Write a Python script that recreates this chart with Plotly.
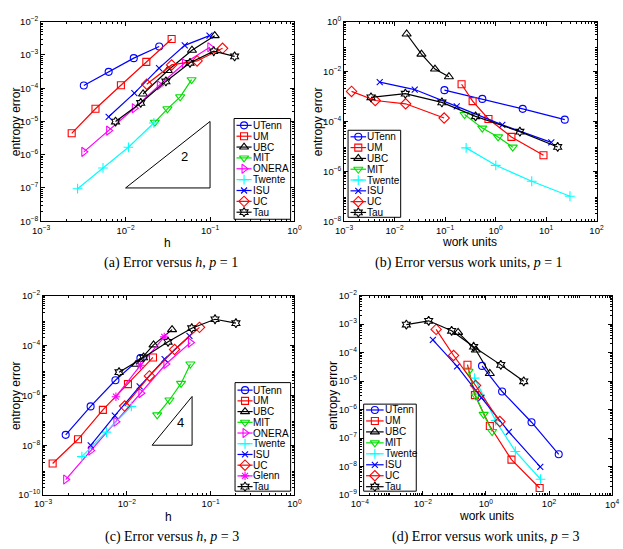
import math
import plotly.graph_objects as go

W, H = 623, 549

# ---------------- data: (a) error vs h, p = 1 ----------------
A_UTENN_H = [0.0032, 0.0063, 0.0125, 0.025]
A_UTENN_E = [1.2e-4, 3.1e-4, 8.0e-4, 1.8e-3]
A_UM_H = [0.0023, 0.0044, 0.0088, 0.0176, 0.0351]
A_UM_E = [4.4e-6, 2.4e-5, 1.22e-4, 6.2e-4, 3.0e-3]
A_UBC_H = [0.0161, 0.0316, 0.0611, 0.1136]
A_UBC_E = [6.7e-5, 3.4e-4, 1.38e-3, 3.8e-3]
A_MIT_H = [0.0222, 0.0313, 0.0443, 0.0605]
A_MIT_E = [9.5e-6, 2.4e-5, 5.5e-5, 1.8e-4]
A_ONERA_H = [0.0032, 0.0063, 0.0127, 0.0251, 0.0498, 0.0995]
A_ONERA_E = [1.22e-6, 5.3e-6, 2.5e-5, 1.22e-4, 5.6e-4, 1.7e-3]
A_TWENTE_H = [0.0027, 0.0054, 0.0108, 0.0216]
A_TWENTE_E = [9.5e-8, 4.0e-7, 1.67e-6, 9.0e-6]
A_ISU_H = [0.0063, 0.0127, 0.0249, 0.0502, 0.0986]
A_ISU_E = [1.38e-5, 7.1e-5, 4.0e-4, 1.94e-3, 3.8e-3]
A_UC_H = [0.0178, 0.0351, 0.0703, 0.1406]
A_UC_E = [1.31e-4, 5.0e-4, 6.6e-4, 1.58e-3]
A_TAU_H = [0.0076, 0.0151, 0.030, 0.0579, 0.1106, 0.1954]
A_TAU_E = [9.9e-6, 3.6e-5, 1.6e-4, 5.8e-4, 1.29e-3, 9.0e-4]

# ---------------- data: (b) error vs work units, p = 1 ----------------
B_UTENN_W = [0.097, 0.546, 3.45, 23.5]
B_UTENN_E = [1.8e-3, 8.0e-4, 3.2e-4, 1.18e-4]
B_UM_W = [0.212, 0.351, 0.723, 2.06, 8.9]
B_UM_E = [3.1e-3, 6.5e-4, 1.26e-4, 2.4e-5, 4.4e-6]
B_UBC_W = [0.0173, 0.034, 0.063, 0.119]
B_UBC_E = [0.32, 0.05, 0.0126, 6.2e-3]
B_MIT_W = [0.243, 0.546, 1.12, 2.19]
B_MIT_E = [1.9e-4, 5.4e-5, 2.4e-5, 9.3e-6]
B_TWENTE_W = [0.261, 1.01, 5.2, 29.8]
B_TWENTE_E = [8.7e-6, 1.74e-6, 4.0e-7, 1.0e-7]
B_ISU_W = [0.00507, 0.025, 0.17, 1.36, 12.7]
B_ISU_E = [3.8e-3, 1.9e-3, 4.0e-4, 7.3e-5, 1.45e-5]
B_UC_W = [0.0014, 0.00412, 0.0165, 0.0957]
B_UC_E = [1.6e-3, 6.9e-4, 5.1e-4, 1.37e-4]
B_TAU_W = [0.0034, 0.0163, 0.0863, 0.401, 3.03, 17.0]
B_TAU_E = [9.3e-4, 1.3e-3, 5.8e-4, 1.6e-4, 3.9e-5, 9.5e-6]

# ---------------- data: (c) error vs h, p = 3 ----------------
C_UTENN_H = [0.00186, 0.00369, 0.0073, 0.0145]
C_UTENN_E = [2.6e-8, 3.6e-7, 4.0e-6, 3.1e-5]
C_UM_H = [0.0013, 0.00261, 0.00517, 0.0103, 0.0205]
C_UM_E = [1.84e-9, 1.73e-8, 2.6e-7, 2.8e-6, 3.3e-5]
C_UBC_H = [0.0129, 0.0208, 0.0346]
C_UBC_E = [1.75e-5, 1.05e-4, 4.3e-4]
C_MIT_H = [0.023, 0.0322, 0.0443, 0.0573]
C_MIT_E = [1.64e-7, 6.5e-7, 3.0e-6, 1.8e-5]
C_ONERA_H = [0.00186, 0.0037, 0.0074, 0.0147, 0.0292, 0.0573]
C_ONERA_E = [4.2e-10, 6.1e-9, 8.7e-8, 1.22e-6, 1.8e-5, 1.3e-4]
C_TWENTE_H = [0.0029, 0.0057, 0.0113]
C_TWENTE_E = [3.5e-9, 3.35e-8, 3.6e-7]
C_ISU_H = [0.0037, 0.00718, 0.0142, 0.0282, 0.0558]
C_ISU_E = [9.8e-9, 1.55e-7, 2.3e-6, 2.8e-5, 2.4e-4]
C_UC_H = [0.0094, 0.0186, 0.0371, 0.0735]
C_UC_E = [3.7e-7, 6.0e-6, 6.9e-5, 5.3e-4]
C_GLENN_H = [0.0074, 0.0145, 0.0279]
C_GLENN_E = [8.8e-7, 1.6e-5, 2.2e-4]
C_TAU_H = [0.00806, 0.0158, 0.031, 0.0594, 0.1127, 0.2]
C_TAU_E = [8.5e-6, 3.3e-5, 1.4e-4, 4.9e-4, 1.12e-3, 7.8e-4]

# ---------------- data: (d) error vs work units, p = 3 ----------------
D_UTENN_W = [0.753, 3.26, 27.9, 203.0]
D_UTENN_E = [3.4e-5, 4.3e-6, 3.6e-7, 2.7e-8]
D_UM_W = [0.26, 0.448, 1.33, 6.46, 50.4]
D_UM_E = [3.75e-5, 3.2e-6, 2.65e-7, 1.76e-8, 1.77e-9]
D_UBC_W = [0.131, 0.48, 1.33]
D_UBC_E = [5.1e-4, 1.23e-4, 1.84e-5]
D_MIT_W = [0.28, 0.48, 0.847, 1.57]
D_MIT_E = [2.2e-5, 3.0e-6, 6.8e-7, 1.7e-7]
D_TWENTE_W = [0.438, 2.03, 8.57, 54.0]
D_TWENTE_E = [1.27e-5, 4.1e-7, 3.4e-8, 3.6e-9]
D_ISU_W = [0.0208, 0.122, 0.72, 5.34, 52.8]
D_ISU_E = [2.8e-4, 3.3e-5, 2.6e-6, 1.65e-7, 9.8e-9]
D_UC_W = [0.0264, 0.0943, 0.47, 2.76]
D_UC_E = [6.5e-4, 7.9e-5, 7.0e-6, 3.8e-7]
D_TAU_W = [0.003, 0.0153, 0.0818, 0.407, 2.96, 15.8]
D_TAU_E = [9.6e-4, 1.3e-3, 5.8e-4, 1.6e-4, 3.7e-5, 9.8e-6]

# slope triangles
TRI_A_X = [0.01, 0.1]
TRI_A_Y = [1e-7, 1e-5]
TRI_A_LABEL = "2"
TRI_C_X = [0.02, 0.06]
TRI_C_Y = [1e-8, 9e-7]
TRI_C_LABEL = "4"

# tick labels (decade exponents)
A_XTICKS = [-3, -2, -1, 0]
A_YTICKS = [-8, -7, -6, -5, -4, -3, -2]
B_XTICKS = [-3, -2, -1, 0, 1, 2]
B_YTICKS = [-8, -6, -4, -2, 0]
C_XTICKS = [-3, -2, -1, 0]
C_YTICKS = [-10, -8, -6, -4, -2]
D_XTICKS = [-4, -2, 0, 2, 4]
D_YTICKS = [-9, -8, -7, -6, -5, -4, -3, -2]

CAPTIONS = ["(a) Error versus <i>h</i>, <i>p</i> = 1",
            "(b) Error versus work units, <i>p</i> = 1",
            "(c) Error versus <i>h</i>, <i>p</i> = 3",
            "(d) Error versus work units, <i>p</i> = 3"]
XTITLES = ["h", "work units", "h", "work units"]
YTITLE = "entropy error"

STYLE = {
    "UTenn": ("#0000ff", "circle-open", 7),
    "UM": ("#ff0000", "square-open", 7),
    "UBC": ("#000000", "triangle-up-open", 8),
    "MIT": ("#00e000", "triangle-down-open", 8),
    "ONERA": ("#ff00ff", "triangle-right-open", 8),
    "Twente": ("#00ffff", "cross-thin-open", 7),
    "ISU": ("#0000ff", "x-thin-open", 6),
    "UC": ("#ff0000", "diamond-open", 8),
    "Glenn": ("#ff00ff", "asterisk-open", 7),
    "Tau": ("#000000", "hexagram-open", 7),
}

PANELS = [
    dict(box=(33, 15, 293, 219), xr=(-3, 0), yr=(-8, -2), xt=A_XTICKS, yt=A_YTICKS,
         series=[("UTenn", A_UTENN_H, A_UTENN_E), ("UM", A_UM_H, A_UM_E), ("UBC", A_UBC_H, A_UBC_E),
                 ("MIT", A_MIT_H, A_MIT_E), ("ONERA", A_ONERA_H, A_ONERA_E),
                 ("Twente", A_TWENTE_H, A_TWENTE_E), ("ISU", A_ISU_H, A_ISU_E),
                 ("UC", A_UC_H, A_UC_E), ("Tau", A_TAU_H, A_TAU_E)],
         tri=(TRI_A_X, TRI_A_Y, TRI_A_LABEL, 0.05, 9e-7),
         leg=dict(box=(231, 114, 289, 217), y0=121.0, dy=11.1, lx=(233.5, 249.0), tx=250.0),
         cap=(166, 262), xtp=(163, 241), ytp=(8, 117)),
    dict(box=(344, 15, 603, 219), xr=(-3, 2), yr=(-8, 0), xt=B_XTICKS, yt=B_YTICKS,
         series=[("UTenn", B_UTENN_W, B_UTENN_E), ("UM", B_UM_W, B_UM_E), ("UBC", B_UBC_W, B_UBC_E),
                 ("MIT", B_MIT_W, B_MIT_E), ("Twente", B_TWENTE_W, B_TWENTE_E),
                 ("ISU", B_ISU_W, B_ISU_E), ("UC", B_UC_W, B_UC_E), ("Tau", B_TAU_W, B_TAU_E)],
         tri=None,
         leg=dict(box=(348, 126, 402, 215), y0=132.7, dy=11.05, lx=(350.5, 366.5), tx=367.5),
         cap=(472, 262), xtp=(473, 240), ytp=(318, 117)),
    dict(box=(35, 295, 293, 499), xr=(-3, 0), yr=(-10, -2), xt=C_XTICKS, yt=C_YTICKS,
         series=[("UTenn", C_UTENN_H, C_UTENN_E), ("UM", C_UM_H, C_UM_E), ("UBC", C_UBC_H, C_UBC_E),
                 ("MIT", C_MIT_H, C_MIT_E), ("ONERA", C_ONERA_H, C_ONERA_E),
                 ("Twente", C_TWENTE_H, C_TWENTE_E), ("ISU", C_ISU_H, C_ISU_E),
                 ("UC", C_UC_H, C_UC_E), ("Glenn", C_GLENN_H, C_GLENN_E), ("Tau", C_TAU_H, C_TAU_E)],
         tri=(TRI_C_X, TRI_C_Y, TRI_C_LABEL, 0.044, 8.5e-8),
         leg=dict(box=(232, 384, 289, 495), y0=391.7, dy=10.96, lx=(234.5, 250.0), tx=250.0),
         cap=(167, 542), xtp=(164, 521), ytp=(8, 397)),
    dict(box=(360, 295, 619, 499), xr=(-4, 4), yr=(-9, -2), xt=D_XTICKS, yt=D_YTICKS,
         series=[("UTenn", D_UTENN_W, D_UTENN_E), ("UM", D_UM_W, D_UM_E), ("UBC", D_UBC_W, D_UBC_E),
                 ("MIT", D_MIT_W, D_MIT_E), ("Twente", D_TWENTE_W, D_TWENTE_E),
                 ("ISU", D_ISU_W, D_ISU_E), ("UC", D_UC_W, D_UC_E), ("Tau", D_TAU_W, D_TAU_E)],
         tri=None,
         leg=dict(box=(364, 406, 418, 495), y0=412.0, dy=11.2, lx=(366.5, 384.5), tx=385.5),
         cap=(490, 542), xtp=(490, 520), ytp=(333, 397)),
]

SANS = "Liberation Sans, Arial, Helvetica, sans-serif"
SERIF = "Liberation Serif, Times New Roman, serif"
TICK_SIZE = 9.5


def tick_text(p):
    if p < 0:
        return "10<sup>\u2212%d</sup>" % (-p)
    return "10<sup>%d</sup>" % p


def minor_vals(lo, hi):
    out = []
    for d in range(lo, hi):
        for k in range(2, 10):
            out.append(k * 10.0 ** d)
    return out


fig = go.Figure()
layout_axes = {}
annotations = []
shapes = []

for i, P in enumerate(PANELS):
    n = i + 1
    xa = "x" if n == 1 else "x%d" % n
    ya = "y" if n == 1 else "y%d" % n
    l, t, r, b = P["box"]
    common = dict(type="log", ticks="inside", ticklen=4, tickwidth=1, tickcolor="black",
                  showline=True, linecolor="black", linewidth=1, mirror="ticks",
                  showgrid=False, zeroline=False,
                  tickfont=dict(family=SANS, size=TICK_SIZE, color="black"))
    # a label that sits on the right edge of the page is written as a text so the page cuts it
    xtext = [tick_text(p) for p in P["xt"]]
    edge_label = None
    if r >= W - 10:
        edge_label = xtext[-1]
        xtext[-1] = ""
    layout_axes["xaxis" if n == 1 else "xaxis%d" % n] = dict(
        common, domain=[l / W, r / W], range=list(P["xr"]), anchor=ya,
        tickmode="array", tickvals=[10.0 ** p for p in P["xt"]], ticktext=xtext,
        minor=dict(tickmode="array", tickvals=minor_vals(P["xr"][0], P["xr"][1]),
                   ticks="inside", ticklen=2, tickcolor="black", showgrid=False))
    layout_axes["yaxis" if n == 1 else "yaxis%d" % n] = dict(
        common, domain=[1 - b / H, 1 - t / H], range=list(P["yr"]), anchor=xa,
        tickmode="array", tickvals=[10.0 ** p for p in P["yt"]],
        ticktext=[tick_text(p) for p in P["yt"]],
        minor=dict(tickmode="array", tickvals=minor_vals(P["yr"][0], P["yr"][1]),
                   ticks="inside", ticklen=2, tickcolor="black", showgrid=False))
    if edge_label is not None:
        annotations.append(dict(x=P["xr"][1], y=b + 9, xref=xa, yref="y9", text=edge_label,
                                showarrow=False, xanchor="center", yanchor="middle",
                                font=dict(family=SANS, size=TICK_SIZE, color="black")))

    if P["tri"] is not None:
        tx, ty, lab, lxp, lyp = P["tri"]
        fig.add_trace(go.Scatter(x=[tx[0], tx[1], tx[1], tx[0]], y=[ty[0], ty[0], ty[1], ty[0]],
                                 mode="lines", line=dict(color="black", width=1),
                                 xaxis=xa, yaxis=ya, showlegend=False, hoverinfo="skip"))
        annotations.append(dict(x=math.log10(lxp), y=math.log10(lyp), xref=xa, yref=ya, text=lab,
                                showarrow=False, font=dict(family=SANS, size=13, color="black")))

    for name, xs, ys in P["series"]:
        col, sym, sz = STYLE[name]
        fig.add_trace(go.Scatter(x=xs, y=ys, mode="lines+markers", name=name,
                                 line=dict(color=col, width=1.2),
                                 marker=dict(symbol=sym, size=sz, color=col,
                                             line=dict(color=col, width=1.1)),
                                 xaxis=xa, yaxis=ya, showlegend=False))

    # manual legend (MATLAB style box) in pixel overlay axes
    L = P["leg"]
    bl, bt, br, bb = L["box"]
    shapes.append(dict(type="rect", xref="x9", yref="y9", x0=bl, y0=bt, x1=br, y1=bb,
                       line=dict(color="black", width=1), fillcolor="rgba(255,255,255,0)",
                       layer="above"))
    for j, (name, xs, ys) in enumerate(P["series"]):
        col, sym, sz = STYLE[name]
        yy = L["y0"] + j * L["dy"]
        x0, x1 = L["lx"]
        fig.add_trace(go.Scatter(x=[x0, (x0 + x1) / 2, x1], y=[yy, yy, yy], mode="lines+markers",
                                 line=dict(color=col, width=1.2),
                                 marker=dict(symbol=sym, size=sz, color=col, opacity=[0, 1, 0],
                                             line=dict(color=col, width=1.1)),
                                 xaxis="x9", yaxis="y9", showlegend=False, hoverinfo="skip"))
        annotations.append(dict(x=L["tx"], y=yy, xref="x9", yref="y9", text=name, showarrow=False,
                                xanchor="left", yanchor="middle", borderpad=0, borderwidth=0,
                                font=dict(family=SANS, size=10, color="black")))

    # captions and axis titles
    cx, cy = P["cap"]
    annotations.append(dict(x=cx, y=cy, xref="x9", yref="y9", text=CAPTIONS[i], showarrow=False,
                            xanchor="center", yanchor="middle",
                            font=dict(family=SERIF, size=14, color="black")))
    hx, hy = P["xtp"]
    annotations.append(dict(x=hx, y=hy, xref="x9", yref="y9", text=XTITLES[i], showarrow=False,
                            xanchor="center", yanchor="middle",
                            font=dict(family=SANS, size=12, color="black")))
    vx, vy = P["ytp"]
    annotations.append(dict(x=vx, y=vy, xref="x9", yref="y9", text=YTITLE, showarrow=False,
                            textangle=-90, xanchor="center", yanchor="middle",
                            font=dict(family=SANS, size=12, color="black")))

layout_axes["xaxis9"] = dict(domain=[0, 1], range=[0, W], visible=False, anchor="y9", fixedrange=True)
layout_axes["yaxis9"] = dict(domain=[0, 1], range=[H, 0], visible=False, anchor="x9", fixedrange=True)

fig.update_layout(width=W, height=H, margin=dict(l=0, r=0, t=0, b=0),
                  paper_bgcolor="white", plot_bgcolor="rgba(0,0,0,0)",
                  showlegend=False, annotations=annotations, shapes=shapes, **layout_axes)

fig.write_html("out.html")
